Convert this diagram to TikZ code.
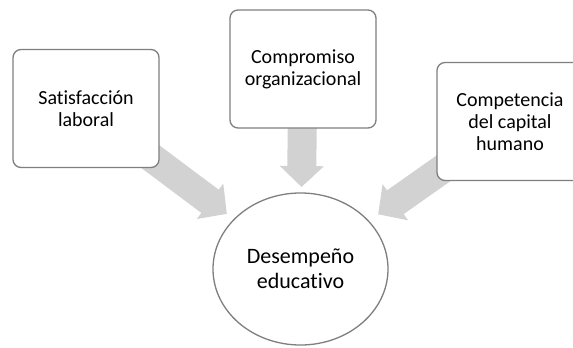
\documentclass[tikz,border=0pt]{standalone}
\usepackage{fontspec}
\setmainfont{Carlito}[RawFeature={-liga;-clig;-calt;-dlig}]
\usetikzlibrary{arrows.meta,shapes.geometric,backgrounds}
\definecolor{marco}{RGB}{127,127,127}
\definecolor{flecha}{RGB}{210,210,210}
\begin{document}
\begin{tikzpicture}[x=1pt,y=-1pt,
	caja/.style={draw=marco,line width=1.3pt,fill=white,rounded corners=8pt,minimum width=146pt,minimum height=118pt,align=center,font=\fontsize{20}{22}\selectfont},
	meta/.style={ellipse,draw=marco,line width=1.3pt,fill=white,minimum width=175pt,minimum height=152pt,align=center,font=\fontsize{22}{25}\selectfont},
	flechagruesa/.style={draw=flecha,line width=29pt,-{Triangle[width=43pt,length=21pt]}}]
				\useasboundingbox (0,0) rectangle (573,348);
				\node[caja] (sat) at (86,108.5) {Satisfacción\\laboral};
				\node[caja] (comp) at (303,69) {Compromiso\\organizacional};
				\node[caja] (cap) at (510,121.5) {Competencia\\del capital\\humano};
				\node[meta] (des) at (300.5,269) {Desempeño\\educativo};
				\begin{scope}[on background layer]
					\draw[flechagruesa,shorten >=92pt] (sat.center)--(des.center);
					\draw[flechagruesa,shorten >=82pt] (comp.center)--(des.center);
					\draw[flechagruesa,shorten >=95pt] (cap.center)--(des.center);
				\end{scope}
			\end{tikzpicture}
\end{document}
